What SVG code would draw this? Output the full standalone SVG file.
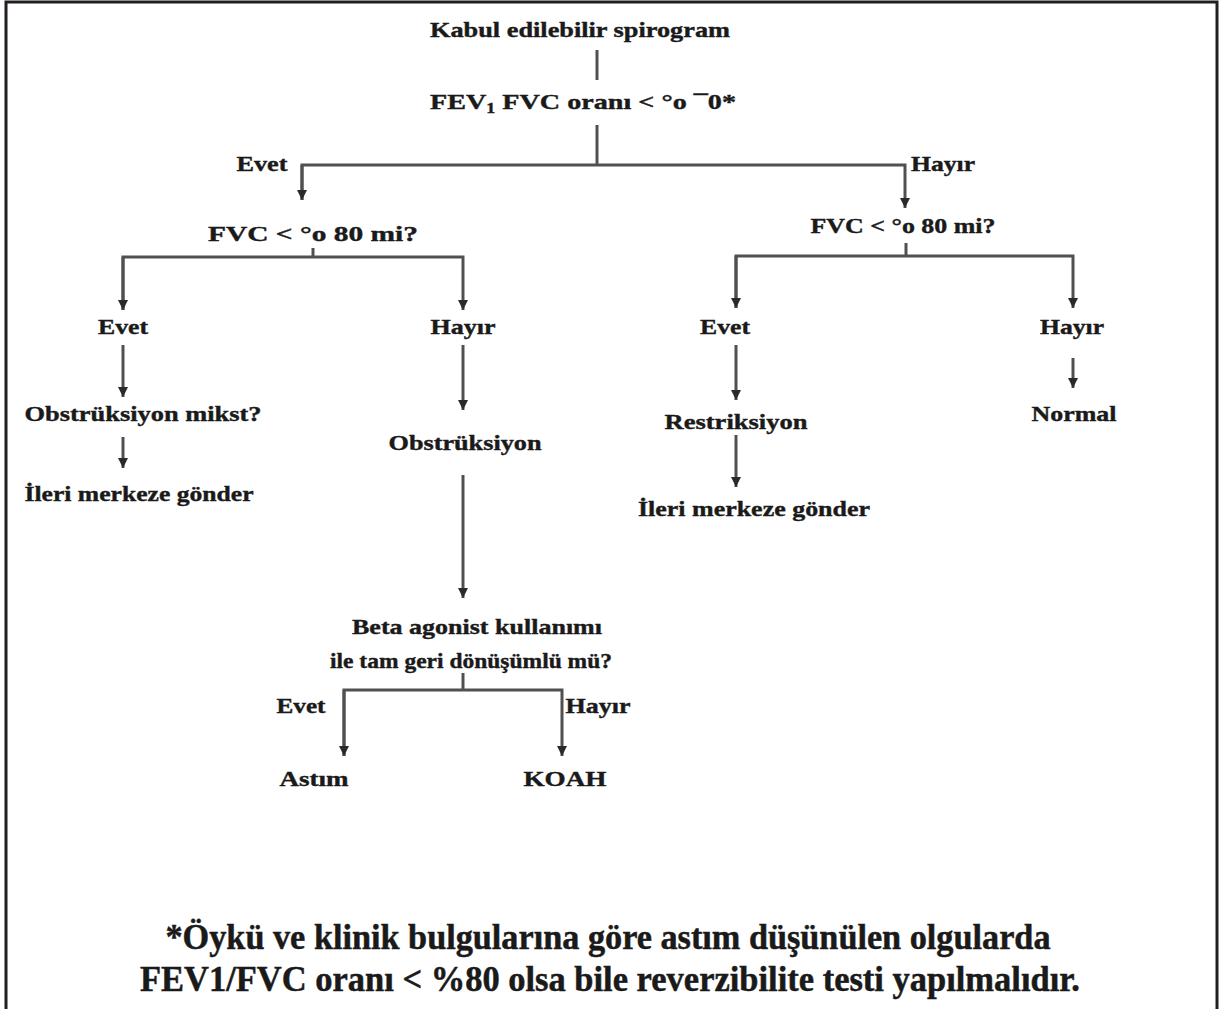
<svg xmlns="http://www.w3.org/2000/svg" width="1219" height="1009" viewBox="0 0 1219 1009">
<defs>
<style>
.t{font-family:"Liberation Serif","Times New Roman",serif;font-weight:bold;font-size:22px;fill:#1a1a1a;stroke:#1a1a1a;stroke-width:0.4;text-anchor:middle}
.n{font-family:"Liberation Serif","Times New Roman",serif;font-weight:bold;font-size:36px;fill:#1a1a1a;stroke:#1a1a1a;stroke-width:0.5;text-anchor:middle}
.c{fill:none;stroke:#505050;stroke-width:3}
</style>
<marker id="ah" viewBox="0 0 10 10" refX="10" refY="5" markerWidth="10" markerHeight="10" markerUnits="userSpaceOnUse" orient="auto">
<path d="M0,0 L10,5 L0,10 z" fill="#2a2a2a"/>
</marker>
</defs>
<rect width="1219" height="1009" fill="#fff"/>
<path d="M6,1009 V2 H1217 V1009" fill="none" stroke="#231f20" stroke-width="3"/>
<g id="connectors">
<path class="c" d="M597,50 V80"/>
<path class="c" d="M597,125 V165"/>
<path class="c" d="M302,200 V165 H905 V208" marker-end="url(#ah)"/>
<path class="c" d="M302,165 V200" marker-end="url(#ah)"/>
<path class="c" d="M313,248 V257"/>
<path class="c" d="M123,310 V257 H463 V310" marker-end="url(#ah)"/>
<path class="c" d="M123,257 V310" marker-end="url(#ah)"/>
<path class="c" d="M906,243 V256"/>
<path class="c" d="M736,308 V256 H1073 V308" marker-end="url(#ah)"/>
<path class="c" d="M736,256 V308" marker-end="url(#ah)"/>
<path class="c" d="M123,345 V397" marker-end="url(#ah)"/>
<path class="c" d="M123,437 V468" marker-end="url(#ah)"/>
<path class="c" d="M463,345 V410" marker-end="url(#ah)"/>
<path class="c" d="M463,475 V598" marker-end="url(#ah)"/>
<path class="c" d="M463,673 V690"/>
<path class="c" d="M344,756 V690 H562 V756" marker-end="url(#ah)"/>
<path class="c" d="M344,690 V756" marker-end="url(#ah)"/>
<path class="c" d="M736,345 V400" marker-end="url(#ah)"/>
<path class="c" d="M736,435 V487" marker-end="url(#ah)"/>
<path class="c" d="M1073,358 V388" marker-end="url(#ah)"/>
</g>
<g id="n-start"><text class="t" x="580" y="37" textLength="300" lengthAdjust="spacingAndGlyphs">Kabul edilebilir spirogram</text></g>
<g id="n-ratio"><text class="t" x="583" y="109" textLength="306" lengthAdjust="spacingAndGlyphs">FEV<tspan font-size="14" dy="4">1</tspan><tspan dy="-4"> FVC oranı &lt; °o ¯0*</tspan></text></g>
<g id="l-evet1"><text class="t" x="262" y="171" textLength="51" lengthAdjust="spacingAndGlyphs">Evet</text></g>
<g id="l-hayir1"><text class="t" x="943" y="171" textLength="64" lengthAdjust="spacingAndGlyphs">Hayır</text></g>
<g id="n-fvc-left"><text class="t" x="313" y="241" textLength="210" lengthAdjust="spacingAndGlyphs">FVC &lt; °o 80 mi?</text></g>
<g id="n-fvc-right"><text class="t" x="903" y="233" textLength="185" lengthAdjust="spacingAndGlyphs">FVC &lt; °o 80 mi?</text></g>
<g id="n-evet-l"><text class="t" x="123" y="334" textLength="50" lengthAdjust="spacingAndGlyphs">Evet</text></g>
<g id="n-hayir-l"><text class="t" x="463" y="334" textLength="65" lengthAdjust="spacingAndGlyphs">Hayır</text></g>
<g id="n-evet-r"><text class="t" x="725" y="334" textLength="50" lengthAdjust="spacingAndGlyphs">Evet</text></g>
<g id="n-hayir-r"><text class="t" x="1072" y="334" textLength="64" lengthAdjust="spacingAndGlyphs">Hayır</text></g>
<g id="n-mikst"><text class="t" x="143" y="421" textLength="237" lengthAdjust="spacingAndGlyphs">Obstrüksiyon mikst?</text></g>
<g id="n-ileri-l"><text class="t" x="139" y="501" textLength="229" lengthAdjust="spacingAndGlyphs">İleri merkeze gönder</text></g>
<g id="n-obs"><text class="t" x="465" y="450" textLength="153" lengthAdjust="spacingAndGlyphs">Obstrüksiyon</text></g>
<g id="n-beta"><text class="t" x="477" y="634" textLength="250" lengthAdjust="spacingAndGlyphs">Beta agonist kullanımı</text><text class="t" x="471" y="668" textLength="282" lengthAdjust="spacingAndGlyphs">ile tam geri dönüşümlü mü?</text></g>
<g id="l-evet3"><text class="t" x="301" y="713" textLength="49" lengthAdjust="spacingAndGlyphs">Evet</text></g>
<g id="l-hayir3"><text class="t" x="598" y="713" textLength="65" lengthAdjust="spacingAndGlyphs">Hayır</text></g>
<g id="n-astim"><text class="t" x="314" y="786" textLength="69" lengthAdjust="spacingAndGlyphs">Astım</text></g>
<g id="n-koah"><text class="t" x="565" y="786" textLength="83" lengthAdjust="spacingAndGlyphs">KOAH</text></g>
<g id="n-restr"><text class="t" x="736" y="429" textLength="143" lengthAdjust="spacingAndGlyphs">Restriksiyon</text></g>
<g id="n-ileri-r"><text class="t" x="754" y="516" textLength="232" lengthAdjust="spacingAndGlyphs">İleri merkeze gönder</text></g>
<g id="n-normal"><text class="t" x="1074" y="421" textLength="85" lengthAdjust="spacingAndGlyphs">Normal</text></g>
<g id="note">
<text class="n" x="608" y="949" textLength="885" lengthAdjust="spacingAndGlyphs">*Öykü ve klinik bulgularına göre astım düşünülen olgularda</text>
<text class="n" x="610" y="991" textLength="940" lengthAdjust="spacingAndGlyphs">FEV1/FVC oranı &lt; %80 olsa bile reverzibilite testi yapılmalıdır.</text>
</g>
</svg>
